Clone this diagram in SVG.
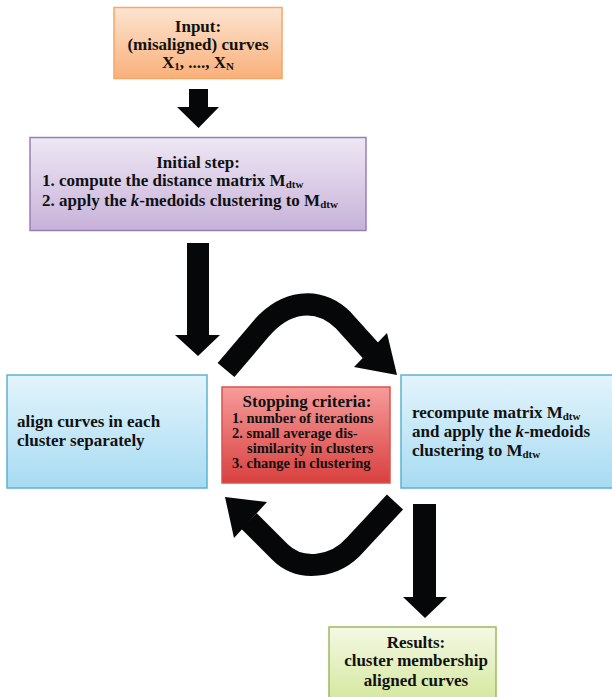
<svg xmlns="http://www.w3.org/2000/svg" width="612" height="697" viewBox="0 0 612 697">
<defs>
<linearGradient id="gOrange" x1="0" y1="0" x2="0" y2="1"><stop offset="0" stop-color="#fde4d1"/><stop offset="1" stop-color="#f9b07a"/></linearGradient>
<linearGradient id="gPurple" x1="0" y1="0" x2="0" y2="1"><stop offset="0" stop-color="#eee7f4"/><stop offset="1" stop-color="#c7b2d9"/></linearGradient>
<linearGradient id="gBlue" x1="0" y1="0" x2="0" y2="1"><stop offset="0" stop-color="#e3f4fc"/><stop offset="1" stop-color="#a7dbf2"/></linearGradient>
<linearGradient id="gRed" x1="0" y1="0" x2="0" y2="1"><stop offset="0" stop-color="#f69c9b"/><stop offset="1" stop-color="#d8403e"/></linearGradient>
<linearGradient id="gGreen" x1="0" y1="0" x2="0" y2="1"><stop offset="0" stop-color="#f4f9e4"/><stop offset="1" stop-color="#d5e8a0"/></linearGradient>
</defs>
<style>
text{font-family:"Liberation Serif","Times New Roman",serif;font-weight:bold;fill:#111;}
.t{font-size:17px;}
.s{font-size:14.5px;}
.c{text-anchor:middle;}
.sub{font-size:11px;}
.box{stroke-width:1.5;}
.arr{fill:#050708;}
.shaft{fill:none;stroke:#050708;stroke-width:22;stroke-linecap:butt;stroke-linejoin:round;}
</style>

<g id="connectors">
  <polygon class="arr" points="189,89 208,89 208,107 219,107 198.5,128 177,107 189,107"/>
  <polygon class="arr" points="187,243 209,243 209,335 220,335 198,356 175,335 187,335"/>
  <path class="shaft" d="M226,370 L260,330 C285,300 318,296 343,320 L371,351"/>
  <polygon class="arr" points="387,333 397,375 354,367"/>
  <path class="shaft" d="M395,502 L355,545 C335,568 300,572 280,552 L249,521"/>
  <polygon class="arr" points="267,502 225,497 234,538"/>
  <polygon class="arr" points="413,504 436,504 436,597 447,597 425,618 403,597 413,597"/>
</g>

<g id="input">
  <rect class="box" x="114" y="7.5" width="168" height="71" fill="url(#gOrange)" stroke="#f6a666"/>
  <text class="t c" x="198" y="32">Input:</text>
  <text class="t c" x="198" y="50">(misaligned) curves</text>
  <text class="t c" x="198" y="68">X<tspan class="sub" dy="2">1</tspan><tspan dy="-2">, ...., X</tspan><tspan class="sub" dy="2">N</tspan></text>
</g>

<g id="initial">
  <rect class="box" x="30" y="137.5" width="336" height="93" fill="url(#gPurple)" stroke="#9a7fb5"/>
  <text class="t c" x="198" y="168">Initial step:</text>
  <text class="t" x="42" y="186">1. compute the distance matrix M<tspan class="sub" dy="2">dtw</tspan></text>
  <text class="t" x="42" y="206">2. apply the <tspan font-style="italic">k</tspan>-medoids clustering to M<tspan class="sub" dy="2">dtw</tspan></text>
</g>

<g id="align">
  <rect class="box" x="7" y="375" width="200" height="113" fill="url(#gBlue)" stroke="#5cb3ce"/>
  <text class="t" x="17" y="427">align curves in each</text>
  <text class="t" x="17" y="446">cluster separately</text>
</g>

<g id="stopping">
  <rect class="box" x="222" y="387" width="168" height="96" fill="url(#gRed)" stroke="#d9534f"/>
  <text class="t c" x="307" y="407">Stopping criteria:</text>
  <text class="s" x="232" y="423">1. number of iterations</text>
  <text class="s" x="232" y="438">2. small average dis-</text>
  <text class="s" x="247" y="453">similarity in clusters</text>
  <text class="s" x="232" y="468">3. change in clustering</text>
</g>

<g id="recompute">
  <rect class="box" x="401" y="375" width="213" height="113" fill="url(#gBlue)" stroke="#5cb3ce"/>
  <text class="t" x="412" y="418">recompute matrix M<tspan class="sub" dy="2">dtw</tspan></text>
  <text class="t" x="412" y="437">and apply the <tspan font-style="italic">k</tspan>-medoids</text>
  <text class="t" x="412" y="456">clustering to M<tspan class="sub" dy="2">dtw</tspan></text>
</g>

<g id="results">
  <rect class="box" x="329" y="627" width="167" height="72" fill="url(#gGreen)" stroke="#9bbb59"/>
  <text class="t c" x="416" y="648">Results:</text>
  <text class="t c" x="416" y="666">cluster membership</text>
  <text class="t c" x="416" y="686">aligned curves</text>
</g>
</svg>
